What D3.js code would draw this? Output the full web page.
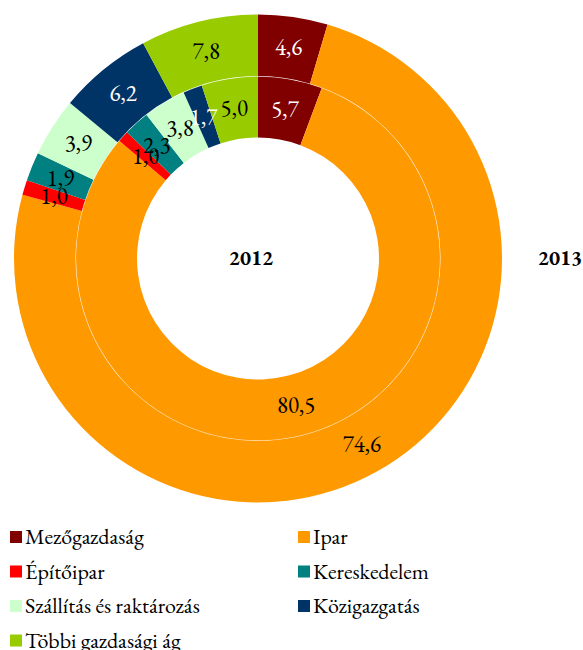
<!DOCTYPE html>
<html>
<head>
<meta charset="utf-8">
<script src="https://cdn.jsdelivr.net/npm/d3@7"></script>
<style>
  body { margin: 0; background: #fff; }
</style>
</head>
<body>
<div id="chart"></div>
<script>
// Sector names, colours and shares (%) for both years
const categories = ["Mezőgazdaság", "Ipar", "Építőipar", "Kereskedelem",
    "Szállítás és raktározás", "Közigazgatás", "Többi gazdasági ág"];
const colors = ["#800000", "#FF9900", "#FF0000", "#008080", "#CCFFCC", "#003366", "#99CC00"];
const values2012 = [5.7, 80.5, 1.0, 2.3, 3.8, 1.7, 5.0];
const values2013 = [4.6, 74.6, 1.0, 1.9, 3.9, 6.2, 7.8];
const darkLabel = new Set(["Mezőgazdaság", "Közigazgatás"]);

const width = 583, height = 650;
const cx = 258, cy = 258.5;
const serif = "EB Garamond";

const svg = d3.select("#chart").append("svg")
    .attr("width", width)
    .attr("height", height);

const color = d3.scaleOrdinal().domain(categories).range(colors);
const pie = d3.pie().sort(null).value(d => d.value);

const fmt = v => v.toFixed(1).replace(".", ",");

function drawRing(values, r0, r1) {
    const data = categories.map((c, i) => ({ name: c, value: values[i] }));
    const arc = d3.arc().innerRadius(r0).outerRadius(r1);
    const g = svg.append("g").attr("transform", `translate(${cx},${cy})`);
    const arcs = pie(data);
    g.selectAll("path")
        .data(arcs)
        .enter().append("path")
        .attr("d", arc)
        .attr("fill", d => color(d.data.name));
    g.selectAll("text")
        .data(arcs)
        .enter().append("text")
        .attr("transform", d => `translate(${arc.centroid(d)})`)
        .attr("text-anchor", "middle")
        .attr("dy", "0.33em")
        .style("font-family", serif)
        .style("font-size", "23px")
        .style("fill", d => darkLabel.has(d.data.name) ? "#fff" : "#000")
        .text(d => fmt(d.data.value));
}

drawRing(values2012, 121, 182);
drawRing(values2013, 182.4, 244);

// faint separator between the two rings
svg.append("circle")
    .attr("cx", cx).attr("cy", cy).attr("r", 182.2)
    .attr("fill", "none")
    .attr("stroke", "#fff")
    .attr("stroke-opacity", 0.35)
    .attr("stroke-width", 0.5);

// year labels
svg.append("text")
    .attr("x", 251).attr("y", cy)
    .attr("text-anchor", "middle").attr("dy", "0.33em")
    .style("font-family", serif)
    .style("font-size", "21px").style("font-weight", "bold")
    .text("2012");
svg.append("text")
    .attr("x", 560).attr("y", cy)
    .attr("text-anchor", "middle").attr("dy", "0.33em")
    .style("font-family", serif)
    .style("font-size", "21px").style("font-weight", "bold")
    .text("2013");

// legend, two columns
const legend = svg.append("g");
const items = legend.selectAll("g")
    .data(categories)
    .enter().append("g")
    .attr("transform", (d, i) => `translate(${i % 2 ? 298 : 10},${537 + Math.floor(i / 2) * 34.5})`);
items.append("rect")
    .attr("x", 0).attr("y", -6)
    .attr("width", 12).attr("height", 12)
    .attr("fill", d => color(d));
items.append("text")
    .attr("x", 15).attr("dy", "0.33em")
    .style("font-family", serif)
    .style("font-size", "22px")
    .style("fill", "#000")
    .text(d => d);
</script>
</body>
</html>
